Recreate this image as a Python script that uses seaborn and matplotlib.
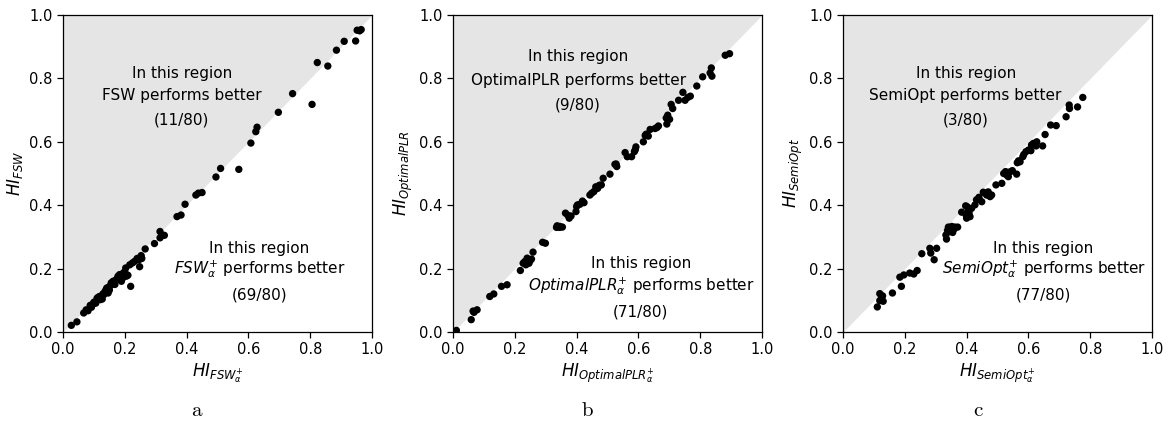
import numpy as np
import pandas as pd
import matplotlib
matplotlib.use("Agg")
import matplotlib.pyplot as plt
import seaborn as sns

# ---- data -------------------------------------------------------------
a_x = [0.027, 0.045, 0.067, 0.081, 0.092, 0.097, 0.106, 0.113, 0.121, 0.129,
       0.127, 0.138, 0.142, 0.146, 0.151, 0.156, 0.162, 0.173, 0.178, 0.183,
       0.189, 0.203, 0.205, 0.210, 0.216, 0.219, 0.232, 0.246, 0.248, 0.253,
       0.266, 0.296, 0.314, 0.314, 0.328, 0.369, 0.382, 0.395, 0.430, 0.438,
       0.450, 0.495, 0.510, 0.569, 0.608, 0.624, 0.628, 0.697, 0.743, 0.806,
       0.823, 0.857, 0.885, 0.910, 0.947, 0.952, 0.960, 0.965, 0.100, 0.110,
       0.118, 0.135, 0.140, 0.148, 0.158, 0.165, 0.170, 0.176, 0.185, 0.195,
       0.200, 0.225, 0.240, 0.088, 0.132, 0.150, 0.168, 0.193, 0.255, 0.075]
a_y = [0.021, 0.032, 0.060, 0.067, 0.078, 0.088, 0.091, 0.109, 0.102, 0.120,
       0.104, 0.130, 0.139, 0.123, 0.144, 0.155, 0.160, 0.165, 0.176, 0.181,
       0.160, 0.202, 0.176, 0.179, 0.212, 0.144, 0.223, 0.228, 0.206, 0.241,
       0.262, 0.279, 0.317, 0.297, 0.305, 0.364, 0.369, 0.403, 0.432, 0.438,
       0.440, 0.489, 0.516, 0.513, 0.596, 0.632, 0.646, 0.693, 0.752, 0.718,
       0.850, 0.839, 0.889, 0.917, 0.918, 0.952, 0.950, 0.954, 0.094, 0.106,
       0.112, 0.126, 0.135, 0.140, 0.150, 0.158, 0.163, 0.168, 0.172, 0.186,
       0.190, 0.218, 0.232, 0.084, 0.118, 0.132, 0.150, 0.170, 0.232, 0.070]

b_x = [0.011, 0.059, 0.068, 0.078, 0.119, 0.132, 0.157, 0.175, 0.218, 0.227,
       0.236, 0.240, 0.246, 0.254, 0.259, 0.290, 0.299, 0.337, 0.346, 0.354,
       0.364, 0.376, 0.382, 0.398, 0.403, 0.411, 0.419, 0.424, 0.443, 0.449,
       0.456, 0.468, 0.474, 0.480, 0.486, 0.508, 0.524, 0.530, 0.557, 0.564,
       0.578, 0.587, 0.592, 0.616, 0.625, 0.632, 0.638, 0.654, 0.665, 0.692,
       0.695, 0.701, 0.706, 0.711, 0.730, 0.744, 0.751, 0.768, 0.789, 0.808,
       0.832, 0.836, 0.838, 0.881, 0.895, 0.065, 0.232, 0.250, 0.335, 0.372,
       0.400, 0.462, 0.470, 0.528, 0.590, 0.622, 0.660, 0.690, 0.760, 0.345]
b_y = [0.005, 0.039, 0.062, 0.070, 0.112, 0.120, 0.144, 0.149, 0.194, 0.217,
       0.212, 0.233, 0.217, 0.230, 0.252, 0.283, 0.280, 0.335, 0.333, 0.331,
       0.375, 0.359, 0.366, 0.380, 0.401, 0.403, 0.413, 0.408, 0.432, 0.438,
       0.443, 0.453, 0.463, 0.464, 0.485, 0.498, 0.529, 0.522, 0.566, 0.553,
       0.553, 0.569, 0.584, 0.600, 0.624, 0.618, 0.639, 0.642, 0.650, 0.656,
       0.684, 0.671, 0.718, 0.705, 0.731, 0.756, 0.731, 0.744, 0.776, 0.805,
       0.817, 0.833, 0.807, 0.873, 0.878, 0.066, 0.222, 0.226, 0.330, 0.368,
       0.396, 0.458, 0.460, 0.530, 0.575, 0.620, 0.645, 0.675, 0.740, 0.330]

c_x = [0.111, 0.119, 0.119, 0.128, 0.130, 0.160, 0.184, 0.189, 0.197, 0.216,
       0.229, 0.240, 0.255, 0.281, 0.284, 0.295, 0.303, 0.333, 0.335, 0.341,
       0.346, 0.352, 0.355, 0.362, 0.371, 0.384, 0.397, 0.400, 0.405, 0.411,
       0.416, 0.427, 0.432, 0.449, 0.454, 0.465, 0.476, 0.481, 0.495, 0.514,
       0.526, 0.530, 0.535, 0.548, 0.562, 0.564, 0.573, 0.582, 0.592, 0.600,
       0.608, 0.616, 0.625, 0.627, 0.646, 0.654, 0.672, 0.690, 0.722, 0.732,
       0.733, 0.759, 0.776, 0.125, 0.338, 0.348, 0.398, 0.408, 0.460, 0.470,
       0.520, 0.540, 0.568, 0.585, 0.610, 0.343, 0.402, 0.530, 0.440, 0.360]
c_y = [0.079, 0.121, 0.099, 0.114, 0.097, 0.123, 0.173, 0.144, 0.180, 0.186,
       0.183, 0.194, 0.247, 0.264, 0.249, 0.228, 0.264, 0.306, 0.293, 0.331,
       0.317, 0.333, 0.314, 0.331, 0.331, 0.378, 0.398, 0.359, 0.380, 0.364,
       0.390, 0.401, 0.417, 0.411, 0.441, 0.432, 0.427, 0.432, 0.464, 0.469,
       0.506, 0.501, 0.490, 0.509, 0.498, 0.534, 0.537, 0.553, 0.569, 0.574,
       0.572, 0.595, 0.587, 0.600, 0.587, 0.623, 0.653, 0.651, 0.679, 0.716,
       0.705, 0.710, 0.740, 0.108, 0.320, 0.325, 0.370, 0.375, 0.438, 0.442,
       0.500, 0.505, 0.540, 0.560, 0.590, 0.325, 0.395, 0.495, 0.425, 0.325]

panel_names = ["FSW", "OptimalPLR", "SemiOpt"]
better_counts = ["(11/80)", "(9/80)", "(3/80)"]
worse_counts = ["(69/80)", "(71/80)", "(77/80)"]
captions = ["a", "b", "c"]
tick_vals = [0.0, 0.2, 0.4, 0.6, 0.8, 1.0]

# ---- figure -----------------------------------------------------------
sns.set_style("ticks")
plt.rcParams['font.family'] = ['DejaVu Sans']
plt.rcParams['mathtext.fontset'] = 'dejavusans'
plt.rcParams['text.color'] = 'black'
plt.rcParams['axes.labelcolor'] = 'black'
plt.rcParams['xtick.color'] = 'black'
plt.rcParams['ytick.color'] = 'black'

fig = plt.figure(figsize=(11.69, 4.24), dpi=100)

lefts = [63 / 1169, 453 / 1169, 843 / 1169]
width = 309 / 1169
bottom = 92 / 424
height = 317 / 424

upper_pos = [(0.384, [0.817, 0.747, 0.668]),
             (0.405, [0.868, 0.794, 0.716]),
             (0.397, [0.817, 0.747, 0.668])]
lower_pos = [(0.636, [0.264, 0.198, 0.118]),
             (0.608, [0.217, 0.146, 0.062]),
             (0.649, [0.264, 0.198, 0.118])]
caption_x = [197 / 1169, 587 / 1169, 978 / 1169]

datasets = [(a_x, a_y), (b_x, b_y), (c_x, c_y)]

for i, name in enumerate(panel_names):
    ax = fig.add_axes([lefts[i], bottom, width, height])
    ax.fill_between([0, 1], [0, 1], [1, 1], color='#e5e5e5', linewidth=0, zorder=0)
    df = pd.DataFrame({"x": datasets[i][0], "y": datasets[i][1]})
    sns.scatterplot(data=df, x="x", y="y", ax=ax, color='black', s=28,
                    edgecolor='none', zorder=3)
    ax.set_xlim(0, 1)
    ax.set_ylim(0, 1)
    ax.set_xticks(tick_vals)
    ax.set_yticks(tick_vals)
    ax.set_xticklabels([f"{v:.1f}" for v in tick_vals])
    ax.set_yticklabels([f"{v:.1f}" for v in tick_vals])
    ax.tick_params(labelsize=10.5, length=4, width=0.9, colors='black')
    for sp in ax.spines.values():
        sp.set_visible(True)
        sp.set_color('black')
        sp.set_linewidth(0.9)
    ax.set_xlabel(r"$HI_{" + name + r"_{\alpha}^{+}}$", fontsize=12, labelpad=3)
    ax.set_ylabel(r"$HI_{" + name + r"}$", fontsize=12, labelpad=3)

    ux, uys = upper_pos[i]
    ax.text(ux, uys[0], "In this region", ha='center', va='center', fontsize=11)
    ax.text(ux, uys[1], f"{name} performs better", ha='center', va='center', fontsize=11)
    ax.text(ux, uys[2], better_counts[i], ha='center', va='center', fontsize=11)

    lx, lys = lower_pos[i]
    ax.text(lx, lys[0], "In this region", ha='center', va='center', fontsize=11)
    ax.text(lx, lys[1], r"$" + name + r"_{\alpha}^{+}$ performs better",
            ha='center', va='center', fontsize=11)
    ax.text(lx, lys[2], worse_counts[i], ha='center', va='center', fontsize=11)

    fig.text(caption_x[i], 1 - 410 / 424, r"$\mathrm{" + captions[i] + "}$",
             ha='center', va='center', fontsize=15, math_fontfamily='cm')

fig.savefig("out.png", dpi=100)
